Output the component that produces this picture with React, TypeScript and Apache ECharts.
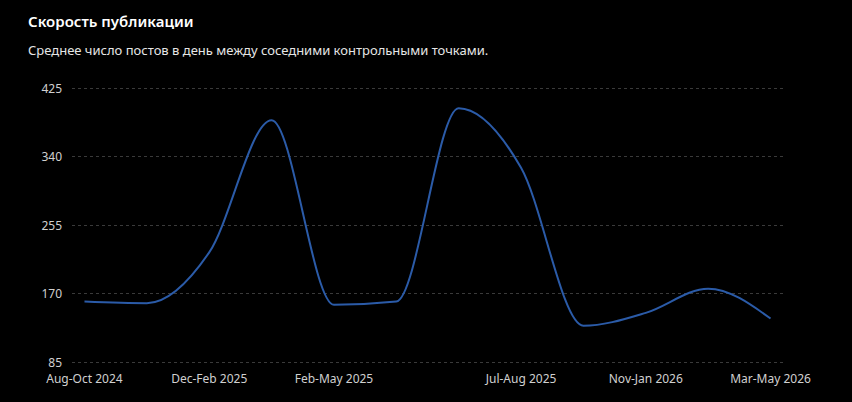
import React, { useEffect, useRef } from "react";
import * as echarts from "echarts";

const titleText = "Скорость публикации";
const subtitleText = "Среднее число постов в день между соседними контрольными точками.";

// 12 checkpoints (periods), values = average posts per day
const values = [160, 158, 221, 385, 156, 160, 400, 326, 130, 146, 176, 139];
// indices of labelled ticks on the x axis and their labels
const tickIndices = [0, 2, 4, 7, 9, 11];
const tickLabels = ["Aug-Oct 2024", "Dec-Feb 2025", "Feb-May 2025", "Jul-Aug 2025", "Nov-Jan 2026", "Mar-May 2026"];
const yTicks = [85, 170, 255, 340, 425];

const FONT = "'Noto Sans', 'Open Sans', sans-serif";

// monotone-x cubic path (same as d3.curveMonotoneX) through pixel points
function monotonePath(pts: number[][]): string {
  const n = pts.length;
  if (n < 2) return "";
  const sign = (x: number) => (x < 0 ? -1 : 1);
  const t: number[] = new Array(n).fill(0);
  for (let i = 1; i < n - 1; i++) {
    const h0 = pts[i][0] - pts[i - 1][0];
    const h1 = pts[i + 1][0] - pts[i][0];
    const s0 = (pts[i][1] - pts[i - 1][1]) / h0;
    const s1 = (pts[i + 1][1] - pts[i][1]) / h1;
    const p = (s0 * h1 + s1 * h0) / (h0 + h1);
    t[i] = (sign(s0) + sign(s1)) * Math.min(Math.abs(s0), Math.abs(s1), 0.5 * Math.abs(p)) || 0;
  }
  if (n > 2) {
    const h0 = pts[1][0] - pts[0][0];
    t[0] = (3 * (pts[1][1] - pts[0][1]) / h0 - t[1]) / 2;
    const hn = pts[n - 1][0] - pts[n - 2][0];
    t[n - 1] = (3 * (pts[n - 1][1] - pts[n - 2][1]) / hn - t[n - 2]) / 2;
  } else {
    const s = (pts[1][1] - pts[0][1]) / (pts[1][0] - pts[0][0]);
    t[0] = s;
    t[1] = s;
  }
  let d = `M${pts[0][0]},${pts[0][1]}`;
  for (let i = 0; i < n - 1; i++) {
    const [x0, y0] = pts[i];
    const [x1, y1] = pts[i + 1];
    const dx = (x1 - x0) / 3;
    d += `C${x0 + dx},${y0 + dx * t[i]},${x1 - dx},${y1 - dx * t[i + 1]},${x1},${y1}`;
  }
  return d;
}

export default function App() {
  const ref = useRef<HTMLDivElement>(null);
  useEffect(() => {
    if (!ref.current) return;
    const chart = echarts.init(ref.current, undefined, { renderer: "svg" });
    const data = values.map((v, i) => [i, v]);
    chart.setOption({
      animation: false,
      backgroundColor: "#000000",
      textStyle: { fontFamily: FONT },
      title: {
        text: titleText,
        subtext: subtitleText,
        left: 28,
        top: 13,
        padding: 0,
        itemGap: 15,
        textStyle: { color: "#ffffff", fontSize: 15, fontWeight: 600, fontFamily: FONT },
        subtextStyle: { color: "#e6e6e6", fontSize: 13, fontFamily: FONT },
      },
      grid: { left: 72, right: 69, top: 88, bottom: 40, containLabel: false },
      xAxis: {
        type: "value",
        min: -0.2,
        max: 11.2,
        axisLine: { show: false },
        axisTick: { show: false },
        splitLine: { show: false },
        axisLabel: {
          color: "#d0d0d0",
          fontSize: 12,
          margin: 9,
          lineHeight: 14,
          customValues: tickIndices,
          formatter: (v: number) => {
            const k = tickIndices.indexOf(Math.round(v));
            return k < 0 ? "" : tickLabels[k];
          },
        },
      },
      yAxis: {
        type: "value",
        min: yTicks[0],
        max: yTicks[yTicks.length - 1],
        interval: 85,
        axisLine: { show: false },
        axisTick: { show: false },
        axisLabel: { color: "#d0d0d0", fontSize: 12, margin: 10, lineHeight: 12 },
        splitLine: { lineStyle: { color: "#3a3a3a", type: [3, 3], width: 1 } },
      },
      series: [
        {
          type: "custom",
          data,
          encode: { x: 0, y: 1 },
          renderItem: (params: any, api: any) => {
            if (params.dataIndex !== 0) return null;
            const pts = values.map((v, i) => api.coord([i, v]));
            return {
              type: "path",
              shape: { pathData: monotonePath(pts) },
              style: { stroke: "#2b5ba8", lineWidth: 2, fill: "none" },
            };
          },
        },
      ],
    });
    return () => chart.dispose();
  }, []);
  return (
    <div
      ref={ref}
      style={{ position: "fixed", left: 0, top: 0, width: 852, height: 402, background: "#000" }}
    />
  );
}
